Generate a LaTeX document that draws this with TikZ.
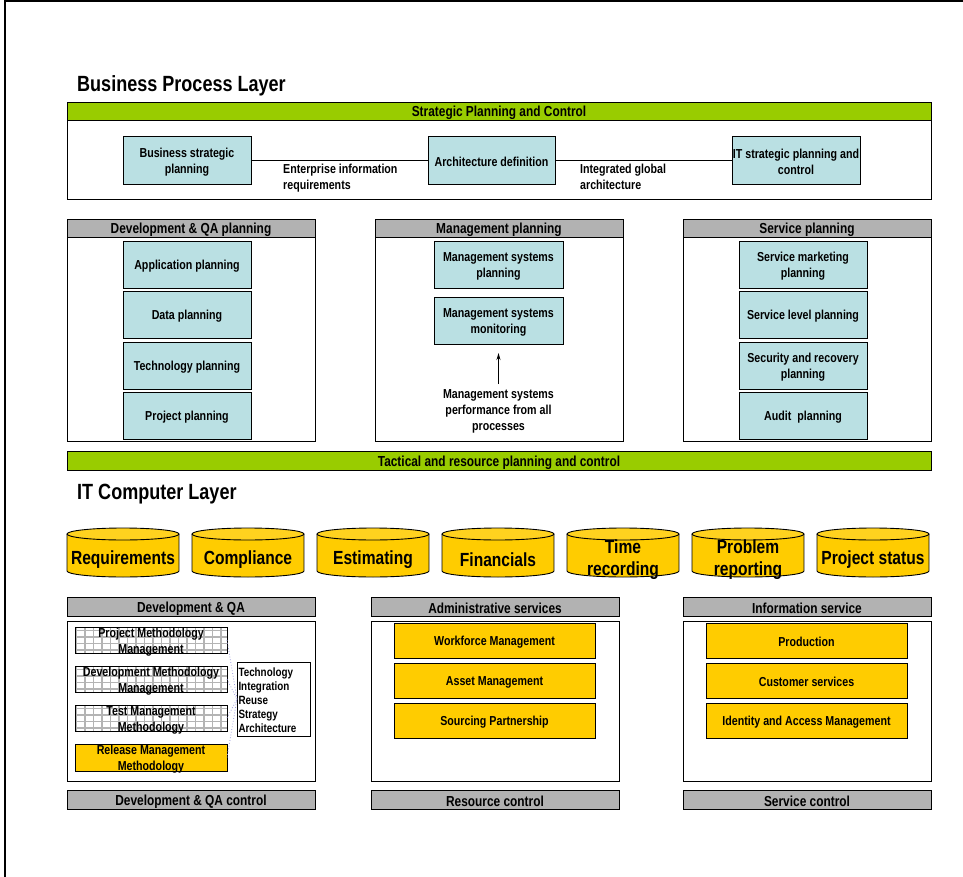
\documentclass[tikz,border=0pt]{standalone}
\usepackage{fontspec}
\setmainfont{Liberation Sans}[FakeStretch=0.82]
\usetikzlibrary{arrows.meta,shadows}

\definecolor{tealfill}{HTML}{BAE0E3}
\definecolor{goldfill}{HTML}{FFCC00}
\definecolor{barfill}{HTML}{B2B2B2}
\definecolor{greenfill}{HTML}{99CC00}
\definecolor{gridline}{HTML}{B4B4B4}
\definecolor{linkdots}{HTML}{9A9ADC}

% box given by its corners: style, name, x1, y1, x2, y2, text
\newcommand\mybox[7]{%
  \node[#1, minimum width={#5-#3}, minimum height={#6-#4}] (#2)
    at ({(#3+#5)/2},{(#4+#6)/2}) {#7};}

% low framed boxes whose text may spill over their edges: the frame is
% drawn on its own, under the text node
\newcommand\goldframe[4]{%
  \fill[black!65] ({#1+1.2},{#2+1.2}) rectangle ({#3+1.2},{#4+1.2});
  \fill[goldfill] (#1,#2) rectangle (#3,#4);
  \draw[line width=0.9pt] (#1,#2) rectangle (#3,#4);}
\newcommand\gridframe[4]{%
  \fill[black!65] ({#1+1.2},{#2+1.2}) rectangle ({#3+1.2},{#4+1.2});
  \fill[white] (#1,#2) rectangle (#3,#4);
  \begin{scope}
    \clip (#1,#2) rectangle (#3,#4);
    \draw[gridline, line width=1.1pt, xstep=8.5pt, ystep=6.5pt] (#1,#2) grid (#3,#4);
  \end{scope}
  \draw[line width=0.9pt] (#1,#2) rectangle (#3,#4);}

% a tall invisible rule on the first line centres the letters optically
\newcommand\capfix{\rule{0pt}{1em}}

\tikzset{
  base/.style={draw=black, line width=0.9pt, inner sep=0pt, outer sep=0pt,
    align=center, font=\bfseries\fontsize{13}{16}\selectfont,
    execute at begin node=\capfix},
  shade/.style={drop shadow={shadow xshift=1.2pt, shadow yshift=-1.2pt,
    fill=black!65, opacity=1}},
  tealbox/.style={base, fill=tealfill, shade},
  goldbox/.style={base, fill=goldfill, shade},
  lowtext/.style={base, draw=none},
  panel/.style={base, fill=white, shade},
  barbox/.style={base, fill=barfill, shade, font=\bfseries\fontsize{14.5}{17}\selectfont},
  greenbar/.style={base, fill=greenfill, shade, font=\bfseries\fontsize{14.5}{17}\selectfont},
  title/.style={anchor=west, inner sep=0pt, font=\bfseries\fontsize{22}{26}\selectfont},
  note/.style={inner sep=0pt, align=left, anchor=north west,
    font=\bfseries\fontsize{13}{16}\selectfont},
  cyltext/.style={inner sep=0pt, align=center, font=\bfseries\fontsize{19}{22}\selectfont,
    execute at begin node=\capfix},
  cylline/.style={draw=black, line width=0.9pt},
  link/.style={line width=0.9pt},
  dots/.style={linkdots, dotted, line width=0.8pt},
}

\begin{document}
\begin{tikzpicture}[x=1pt, y=-1pt]
\useasboundingbox (0,0) rectangle (963,877);

% page frame
\draw[line width=1.5pt] (5,877) -- (5,1.2) -- (963,1.2);

% ---------------- Business process layer ----------------
\node[title] (bpl) at (77,85.5) {Business Process Layer};

\mybox{panel}{strat}{67}{120}{931}{199}{}
\mybox{greenbar}{strathead}{67}{102}{931}{120}{Strategic Planning and Control}

\mybox{tealbox}{bsp}{123}{136}{251}{184}{\capfix Business strategic\\planning}
\mybox{tealbox}{arch}{428}{136}{555}{184}{Architecture definition}
\mybox{tealbox}{itsp}{732}{136}{860}{184}{\capfix IT strategic planning and\\control}
\draw[link] (bsp) -- (arch);
\draw[link] (arch) -- (itsp);
\node[note] (eir) at (283,164) {Enterprise information\\requirements};
\node[note] (iga) at (580,164) {Integrated global\\architecture};

% planning panels
\mybox{panel}{dqp}{67}{237}{315}{441}{}
\mybox{barbox}{dqphead}{67}{219}{315}{237}{Development \& QA planning}
\mybox{panel}{mgp}{375}{237}{623}{441}{}
\mybox{barbox}{mgphead}{375}{219}{623}{237}{Management planning}
\mybox{panel}{svp}{683}{237}{931}{441}{}
\mybox{barbox}{svphead}{683}{219}{931}{237}{Service planning}

\mybox{tealbox}{appl}{123}{241}{251}{288}{Application planning}
\mybox{tealbox}{data}{123}{291}{251}{338}{Data planning}
\mybox{tealbox}{tech-pl}{123}{342}{251}{389}{Technology planning}
\mybox{tealbox}{proj}{123}{392}{251}{439}{Project planning}

\mybox{tealbox}{msplan}{434}{241}{563}{288}{\capfix Management systems\\planning}
\mybox{tealbox}{msmon}{434}{297}{563}{344}{\capfix Management systems\\monitoring}
\node[base, draw=none] (perf) at (498.5,409)
  {\capfix Management systems\\performance from all\\processes};
\draw[link, -{Stealth[length=7pt, width=4pt]}, shorten >=9pt, shorten <=1pt]
  (perf.north) -- (perf.north |- msmon.south);

\mybox{tealbox}{smkt}{739}{241}{867}{288}{\capfix Service marketing\\planning}
\mybox{tealbox}{slvl}{739}{291}{867}{338}{Service level planning}
\mybox{tealbox}{secr}{739}{342}{867}{389}{\capfix Security and recovery\\planning}
\mybox{tealbox}{audit}{739}{392}{867}{439}{Audit \ planning}

\mybox{greenbar}{tact}{67}{451}{931}{470}{Tactical and resource planning and control}

% ---------------- IT computer layer ----------------
\node[title] (itl) at (77,494.5) {IT Computer Layer};

\foreach \cx/\cn/\ct in {67/req/Requirements, 192/comp/Compliance,
    317/est/Estimating, 442/fin/Financials, 567/time/{\capfix Time\\recording},
    692/prob/{\capfix Problem\\reporting}, 817/pstat/{Project status}}{
  \fill[goldfill] (\cx,534) rectangle (\cx+112,571);
  \fill[goldfill] (\cx+56,571) ellipse[x radius=56pt, y radius=6pt];
  \draw[cylline] (\cx,534) -- (\cx,571)
    arc[start angle=180, end angle=360, x radius=56pt, y radius=6pt]
    -- (\cx+112,534);
  \draw[cylline, fill=goldfill!88!white] (\cx+56,534) ellipse[x radius=56pt, y radius=6pt];
  \node[cyltext] (cyl-\cn) at (\cx+56,557) {\ct};
}

% development & QA
\mybox{panel}{dqa}{67}{621}{315}{781}{}
\mybox{barbox}{dqahead}{67}{597}{315}{616}{Development \& QA}
\mybox{barbox}{dqactl}{67}{790}{315}{809}{Development \& QA control}

\gridframe{75}{627}{227}{653}
\mybox{lowtext}{pmm}{75}{627}{227}{653}{\capfix Project Methodology\\Management}
\gridframe{75}{666}{227}{692}
\mybox{lowtext}{dmm}{75}{666}{227}{692}{\capfix Development Methodology\\Management}
\gridframe{75}{705}{227}{731}
\mybox{lowtext}{tmm}{75}{705}{227}{731}{\capfix Test Management\\Methodology}
\goldframe{75}{744}{227}{771}
\mybox{lowtext}{rmm}{75}{744}{227}{771}{\capfix Release Management\\Methodology}

\node[panel, align=left, text width=70pt, minimum height=74pt, inner xsep=1.5pt,
  font=\bfseries\fontsize{12}{14}\selectfont] (tiras) at (273.5,699)
  {Technology\\Integration\\Reuse\\Strategy\\Architecture};
\draw[dots] (pmm.east) -- (tiras.west);
\draw[dots] (dmm.east) -- (tiras.west);
\draw[dots] (tmm.east) -- (tiras.west);
\draw[dots] (rmm.east) -- (tiras.west);

% administrative services
\mybox{panel}{adm}{371}{621}{619}{781}{}
\mybox{barbox}{admhead}{371}{597}{619}{616}{Administrative services}
\mybox{barbox}{admctl}{371}{790}{619}{809}{Resource control}
\mybox{goldbox}{wfm}{394}{623}{595}{658}{Workforce Management}
\mybox{goldbox}{asm}{394}{663}{595}{698}{Asset Management}
\mybox{goldbox}{srcp}{394}{703}{595}{738}{Sourcing Partnership}

% information service
\mybox{panel}{inf}{683}{621}{931}{781}{}
\mybox{barbox}{infhead}{683}{597}{931}{616}{Information service}
\mybox{barbox}{infctl}{683}{790}{931}{809}{Service control}
\mybox{goldbox}{prod}{706}{623}{907}{658}{Production}
\mybox{goldbox}{cust}{706}{663}{907}{698}{Customer services}
\mybox{goldbox}{iam}{706}{703}{907}{738}{Identity and Access Management}

\end{tikzpicture}
\end{document}
